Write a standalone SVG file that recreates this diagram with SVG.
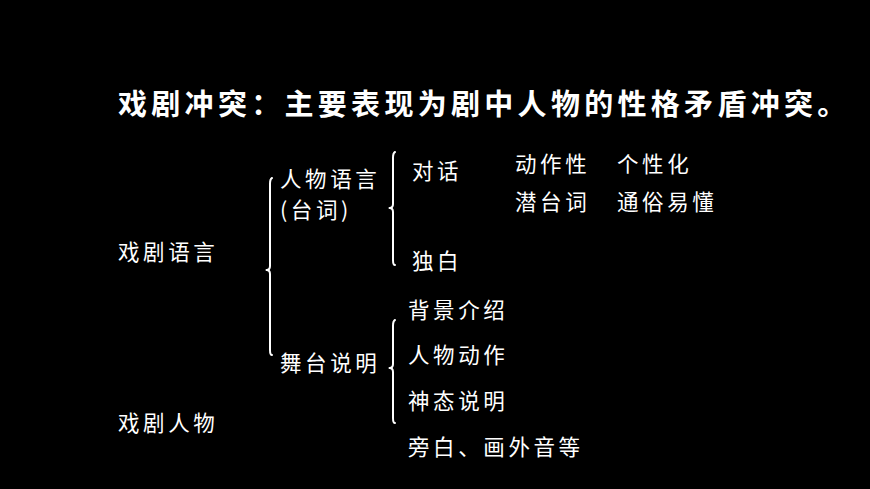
<svg xmlns="http://www.w3.org/2000/svg" width="870" height="489" viewBox="0 0 870 489">
<style>
text{fill:#ffffff;font-family:"Noto Sans CJK SC","Noto Sans CJK TC",sans-serif;font-size:21.5px;letter-spacing:3.6px}
.title{font-size:29px;font-weight:bold;letter-spacing:4.3px}
.brace{fill:none;stroke:#ffffff;stroke-width:2;stroke-linecap:round;stroke-linejoin:round}
</style>
<rect width="870" height="489" fill="#000000"/>
<g id="title"><text class="title" x="118" y="115">戏剧冲突：主要表现为剧中人物的性格矛盾冲突。</text></g>
<g id="n-xijuyuyan"><text x="118" y="260">戏剧语言</text></g>
<g id="n-xijurenwu"><text x="118" y="431">戏剧人物</text></g>
<g id="n-renwuyuyan"><text x="280" y="187">人物语言</text><text x="280" y="218">(台词)</text></g>
<g id="n-wutaishuoming"><text x="280" y="371">舞台说明</text></g>
<g id="n-duihua"><text x="412" y="179">对话</text></g>
<g id="n-dubai"><text x="412" y="269">独白</text></g>
<g id="n-dongzuoxing"><text x="515" y="172">动作性</text></g>
<g id="n-gexinghua"><text x="617" y="172">个性化</text></g>
<g id="n-qiantaici"><text x="515" y="210">潜台词</text></g>
<g id="n-tongsu"><text x="617" y="210">通俗易懂</text></g>
<g id="n-beijing"><text x="408" y="318">背景介绍</text></g>
<g id="n-renwudongzuo"><text x="408" y="363">人物动作</text></g>
<g id="n-shentai"><text x="408" y="409">神态说明</text></g>
<g id="n-pangbai"><text x="408" y="455">旁白、画外音等</text></g>
<g id="connectors">
<path class="brace" d="M272,178 Q270,179 270,184 L270,266 Q270,270 266.5,270 Q270,270 270,274 L270,350 Q270,355 272,355"/>
<path class="brace" d="M395,152 Q393,153 393,158 L393,204 Q393,208 389.5,208 Q393,208 393,212 L393,260 Q393,265 395,265"/>
<path class="brace" d="M395,320 Q393,321 393,326 L393,364 Q393,368 389.5,368 Q393,368 393,372 L393,418 Q393,423 395,423"/>
</g>
</svg>
